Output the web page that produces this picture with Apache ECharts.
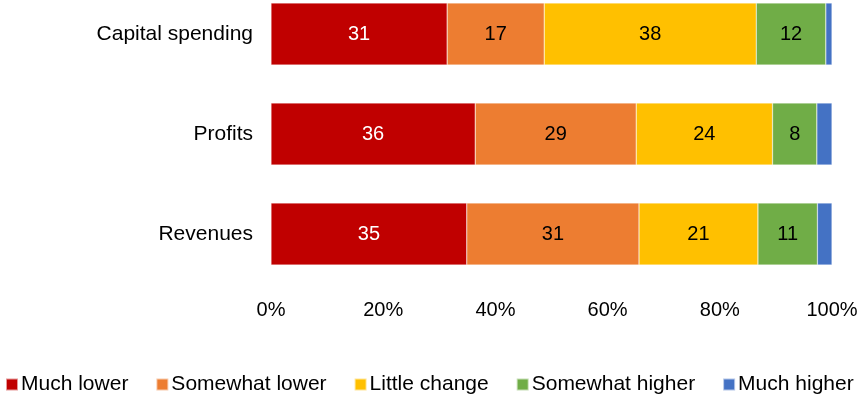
<!DOCTYPE html>
<html>
<head>
<meta charset="utf-8">
<script src="https://cdn.jsdelivr.net/npm/echarts@6/dist/echarts.min.js"></script>
<style>
html,body{margin:0;padding:0;background:#fff;}
#chart{width:858px;height:396px;}
</style>
</head>
<body>
<div id="chart"></div>
<script>
var categories = ['Capital spending', 'Profits', 'Revenues'];
var seriesNames = ['Much lower', 'Somewhat lower', 'Little change', 'Somewhat higher', 'Much higher'];
var muchLower = [31.4, 36.4, 34.9];
var somewhatLower = [17.3, 28.7, 30.7];
var littleChange = [37.8, 24.3, 21.2];
var somewhatHigher = [12.4, 7.9, 10.6];
var muchHigher = [1.1, 2.7, 2.6];
var tickValues = [0, 20, 40, 60, 80, 100];

var colors = ['#C00000', '#ED7D31', '#FFC000', '#70AD47', '#4472C4'];
var labelColors = ['#fff', '#000', '#000', '#000', null];
var allData = [muchLower, somewhatLower, littleChange, somewhatHigher, muchHigher];
var FONT = 'Liberation Sans, Arial, sans-serif';

var series = allData.map(function (d, i) {
  return {
    name: seriesNames[i],
    type: 'bar',
    stack: 'total',
    barWidth: 62,
    data: d,
    itemStyle: { color: colors[i], borderColor: 'rgba(255,255,255,0.6)', borderWidth: 0.5 },
    label: {
      show: i < 4,
      position: 'inside',
      color: labelColors[i] || '#000',
      fontSize: 20,
      fontFamily: FONT,
      formatter: function (p) { return Math.round(p.value); }
    }
  };
});

var chart = echarts.init(document.getElementById('chart'));
chart.setOption({
  animation: false,
  color: colors,
  grid: { left: 271, right: 26, top: 34, height: 200, containLabel: false, outerBoundsMode: 'none' },
  legend: {
    data: seriesNames,
    top: 369,
    left: 5,
    width: 853,
    padding: [5, 0],
    itemWidth: 12,
    itemHeight: 12,
    itemGap: 27,
    icon: 'rect',
    textStyle: { fontSize: 21, fontFamily: FONT, color: '#000', padding: [0, 0, 0, -2] }
  },
  xAxis: {
    type: 'value',
    min: 0,
    max: 100,
    interval: 20,
    axisLine: { show: false },
    axisTick: { show: false },
    splitLine: { show: false },
    axisLabel: {
      margin: 66,
      fontSize: 20,
      fontFamily: FONT,
      color: '#000',
      formatter: function (v) { return tickValues.indexOf(v) >= 0 ? v + '%' : ''; }
    }
  },
  yAxis: {
    type: 'category',
    data: categories,
    inverse: true,
    boundaryGap: false,
    axisLine: { show: false },
    axisTick: { show: false },
    splitLine: { show: false },
    axisLabel: { margin: 18, fontSize: 21, fontFamily: FONT, color: '#000' }
  },
  series: series
});
</script>
</body>
</html>
